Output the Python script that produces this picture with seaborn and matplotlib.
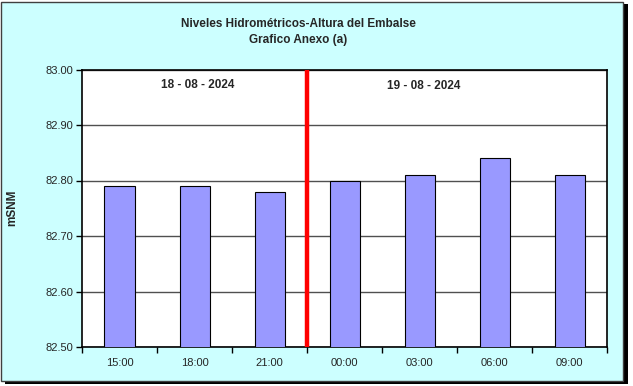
import matplotlib
matplotlib.use("Agg")
import matplotlib.pyplot as plt
import seaborn as sns
import numpy as np
from matplotlib.patches import Rectangle

sns.set_theme(style="white")
plt.rcParams['font.family'] = ['Liberation Sans', 'DejaVu Sans']

# data
horas = ["15:00", "18:00", "21:00", "00:00", "03:00", "06:00", "09:00"]
niveles = [82.79, 82.79, 82.78, 82.80, 82.81, 82.84, 82.81]
dias = ["18 - 08 - 2024", "19 - 08 - 2024"]
yticks = [82.50, 82.60, 82.70, 82.80, 82.90, 83.00]

fig = plt.figure(figsize=(6.33, 3.86), dpi=100)
fig.patch.set_facecolor("white")

# frame with shadow
fig.patches.append(Rectangle((5/633, 1 - 384/386), 623/633, 380/386, transform=fig.transFigure,
                             facecolor="black", edgecolor="none", zorder=0))
fig.patches.append(Rectangle((1/633, 1 - 381/386), 622/633, 379/386, transform=fig.transFigure,
                             facecolor="#ccffff", edgecolor="#404040", linewidth=1, zorder=1))

ax = fig.add_axes([82/633, 1 - 347/386, 525/633, 277.5/386])
ax.set_facecolor("white")
ax.set_zorder(2)

sns.barplot(x=horas, y=niveles, color="#9999ff", edgecolor="black", linewidth=0.8,
            width=0.4, saturation=1, ax=ax, zorder=3)

ax.set_ylim(82.5, 83.0)
ax.set_xlim(-0.5, 6.5)
ax.set_yticks(yticks)
ax.set_yticklabels(["%.2f" % v for v in yticks], fontsize=8)
ax.yaxis.grid(True, color="#505050", linewidth=1)
ax.set_axisbelow(True)

# ticks between categories on x axis
ax.set_xticks(range(len(horas)))
ax.set_xticklabels(horas, fontsize=8)
ax.tick_params(axis="x", which="major", length=0, pad=8)
ax.set_xticks(np.arange(-0.5, 7, 1), minor=True)
ax.tick_params(axis="x", which="minor", length=4, width=1, color="black", direction="out", bottom=True)
ax.tick_params(axis="y", length=4, width=1, color="black", direction="out", left=True, pad=2)

for s in ax.spines.values():
    s.set_color("black")
    s.set_linewidth(1.2)

# day separator
ax.axvline(2.5, color="red", linewidth=3.2, zorder=5)
ax.text(1.04, 82.972, dias[0], ha="center", va="center", fontsize=8.5, fontweight="bold")
ax.text(4.05, 82.970, dias[1], ha="center", va="center", fontsize=8.5, fontweight="bold")

ax.set_xlabel("")
ax.set_ylabel("mSNM", fontsize=8.5, fontweight="bold", labelpad=20)

fig.text(298/633, 1 - 24/386, "Niveles Hidrométricos-Altura del Embalse", ha="center", va="center",
         fontsize=8.5, fontweight="bold", zorder=3)
fig.text(298/633, 1 - 40/386, "Grafico Anexo (a)", ha="center", va="center",
         fontsize=8.5, fontweight="bold", zorder=3)

fig.savefig("out.png", dpi=100)
